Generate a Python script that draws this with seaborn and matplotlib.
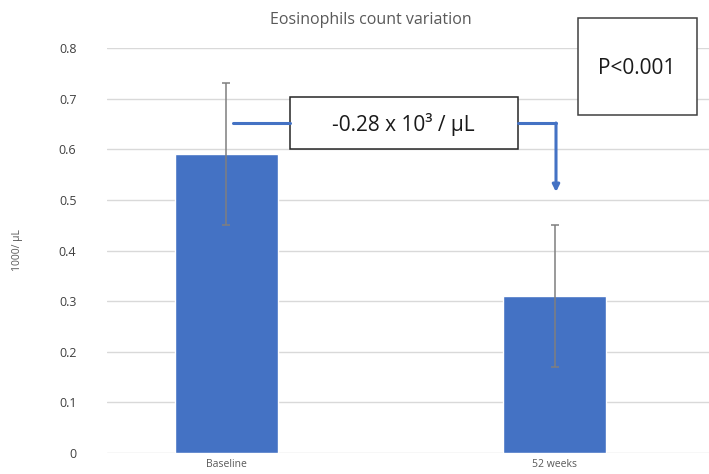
import pandas as pd
import seaborn as sns
import matplotlib.pyplot as plt
from matplotlib.patches import Rectangle

# data
groups = ["Baseline", "52 weeks"]
means = [0.59, 0.31]
errors = [0.14, 0.14]
y_ticks = [0, 0.1, 0.2, 0.3, 0.4, 0.5, 0.6, 0.7, 0.8]
y_tick_labels = ["0", "0.1", "0.2", "0.3", "0.4", "0.5", "0.6", "0.7", "0.8"]

data = pd.DataFrame({"group": groups, "mean": means, "err": errors})

sns.set_style("white")
plt.rcParams['font.family'] = ['Open Sans', 'DejaVu Sans']

fig = plt.figure(figsize=(7.09, 4.74), dpi=100)
ax = fig.add_axes([107 / 709, 21 / 474, 602 / 709, 405 / 474])

sns.barplot(x="group", y="mean", data=data, color="#4472C4", saturation=1,
            width=0.314, errorbar=None, ax=ax, zorder=2)
ax.errorbar(range(len(groups)), data["mean"], yerr=data["err"], fmt="none",
            ecolor="#7f7f7f", elinewidth=1.1, capsize=3, capthick=1.1, zorder=3)

ax.set_xlim(-0.364, 1.47)
ax.set_ylim(0, 0.8)
ax.set_yticks(y_ticks)
ax.set_yticklabels(y_tick_labels, fontsize=9, color="#404040")
ax.tick_params(axis="x", labelsize=7.5, colors="#595959", length=0, pad=4)
ax.tick_params(axis="y", length=0, pad=22)
ax.yaxis.grid(True, color="#d9d9d9", linewidth=1)
ax.set_axisbelow(True)
for s in ax.spines.values():
    s.set_visible(False)
ax.set_xlabel("")
ax.set_ylabel("1000/ µL", fontsize=7.5, color="#595959", labelpad=26)

fig.text(371 / 709, 1 - 20 / 474, "Eosinophils count variation", ha="center",
         va="center", fontsize=11.5, color="#595959")

# arrow connector
tf = fig.transFigure
def px(x, y):
    return x / 709, 1 - y / 474

blue = "#4472C4"
x0, y0 = px(233, 123)
x1, _ = px(290, 123)
fig.add_artist(plt.Line2D([x0, x1], [y0, y0], color=blue, lw=2.2, transform=tf))
x2, _ = px(518, 123)
x3, y3 = px(556, 123)
fig.add_artist(plt.Line2D([x2, x3], [y0, y0], color=blue, lw=2.2, transform=tf))
_, y4 = px(556, 192)
ax.annotate("", xy=(x3, y4), xytext=(x3, y0), xycoords=tf, textcoords=tf,
            arrowprops=dict(arrowstyle="-|>", color=blue, lw=2.2,
                            mutation_scale=10, shrinkA=0, shrinkB=0))

# text boxes
fig.add_artist(Rectangle(px(290, 149), 228 / 709, 52 / 474, transform=tf,
                         facecolor="white", edgecolor="#262626", lw=1.1))
fig.text(403 / 709, 1 - 124 / 474, "-0.28 x 10³ / µL", ha="center",
         va="center", fontsize=15, color="#1a1a1a")
fig.add_artist(Rectangle(px(578, 115), 119 / 709, 97 / 474, transform=tf,
                         facecolor="white", edgecolor="#404040", lw=1.1))
fig.text(637 / 709, 1 - 68 / 474, "P<0.001", ha="center", va="center",
         fontsize=15, color="#1a1a1a")

plt.savefig("out.png", dpi=100)
